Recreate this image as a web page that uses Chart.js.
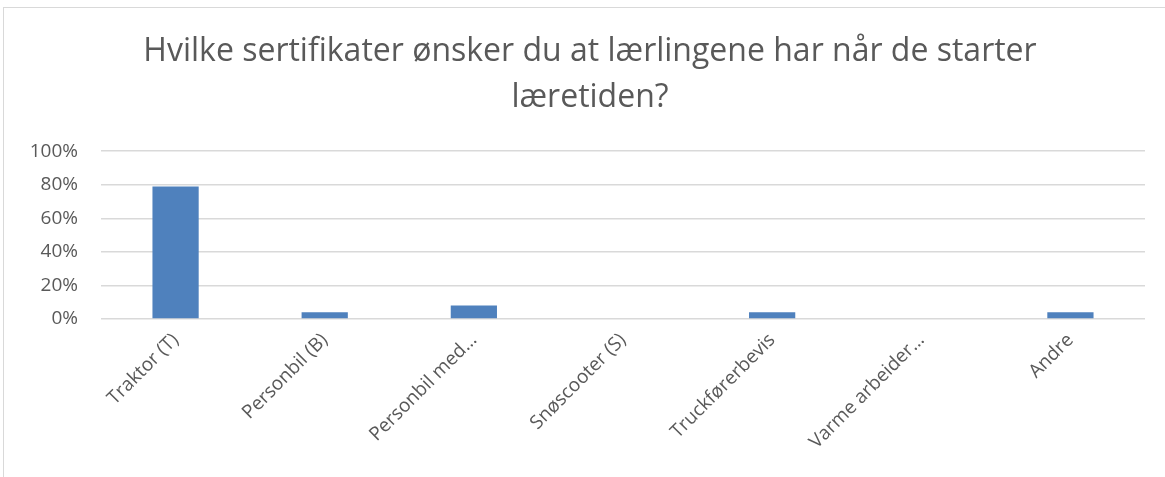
<!DOCTYPE html>
<html>
<head>
<meta charset="utf-8">
<script src="https://cdn.jsdelivr.net/npm/chart.js@4"></script>
<style>
  html, body { margin: 0; padding: 0; background: #fff; }
  #wrap { position: relative; width: 1165px; height: 477px; overflow: hidden; }
  #frame { position: absolute; left: 3px; top: 7px; width: 1170px; height: 480px; border: 1px solid #d9d9d9; box-sizing: border-box; }
  canvas { position: absolute; left: 0; top: 0; }
</style>
</head>
<body>
<div id="wrap">
  <div id="frame"></div>
  <canvas id="c" width="1165" height="477"></canvas>
</div>
<script>
// kategorier og andeler (prosent)
const categories = ['Traktor (T)', 'Personbil (B)', 'Personbil med…', 'Snøscooter (S)', 'Truckførerbevis', 'Varme arbeider…', 'Andre'];
const shares = [79, 4, 8, 0, 4, 0, 4];
const yTicks = [0, 20, 40, 60, 80, 100];
const titleLines = ['Hvilke sertifikater ønsker du at lærlingene har når de starter', 'læretiden?'];

const FONT = "'Open Sans', 'Liberation Sans', sans-serif";
const GREY = '#595959';

new Chart(document.getElementById('c').getContext('2d'), {
  type: 'bar',
  data: {
    labels: categories,
    datasets: [{
      data: shares,
      backgroundColor: '#4f81bd',
      barPercentage: 0.31,
      categoryPercentage: 1.0
    }]
  },
  options: {
    responsive: false,
    animation: false,
    // venstre padding flytter tittelen litt til høyre, som i originalen
    layout: { padding: { left: 15, right: 0, top: 0, bottom: 0 } },
    plugins: {
      legend: { display: false },
      tooltip: { enabled: false },
      title: {
        display: true,
        text: titleLines,
        color: GREY,
        font: { family: FONT, size: 32, weight: 'normal', lineHeight: 1.44 },
        padding: { top: 29, bottom: 30 }
      }
    },
    scales: {
      x: {
        grid: { display: false, drawTicks: false },
        border: { display: false },
        ticks: {
          color: GREY,
          font: { family: FONT, size: 19 },
          maxRotation: 45, minRotation: 45,
          padding: 10,
          autoSkip: false
        },
        afterFit: function(s) { s.height = 158; }
      },
      y: {
        min: 0, max: 100,
        afterBuildTicks: function(s) { s.ticks = yTicks.map(function(v) { return {value: v}; }); },
        grid: { color: '#d9d9d9', lineWidth: 1.5, drawTicks: false },
        border: { display: false },
        ticks: {
          color: GREY,
          font: { family: FONT, size: 19 },
          padding: 23,
          callback: function(v) { return v + '%'; }
        },
        afterFit: function(s) { s.width = 86; }
      },
      // tom akse til høyre, bare for å gi marg
      yPad: {
        position: 'right',
        grid: { display: false, drawTicks: false },
        border: { display: false },
        ticks: { display: false },
        afterFit: function(s) { s.width = 20; }
      }
    }
  }
});
</script>
</body>
</html>
